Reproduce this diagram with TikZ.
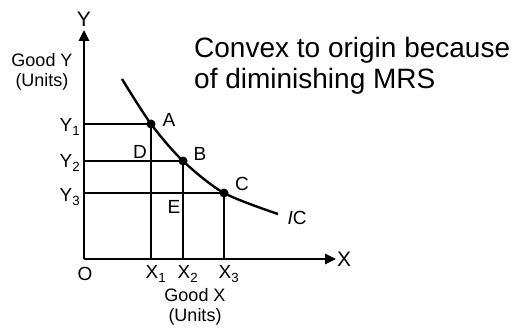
\documentclass[tikz,border=0pt]{standalone}
\usepackage{fontspec}
\setmainfont{Liberation Sans}
\usetikzlibrary{arrows.meta}
\begin{document}
\begin{tikzpicture}[x=1pt,y=-1pt,
  axis/.style={line width=2.6pt,-{Triangle[length=11pt,width=10pt]}},
  guide/.style={line width=2.2pt},
  dot/.style={circle,fill=black,inner sep=0pt,minimum size=9pt},
  lbl/.style={font=\fontsize{19}{19}\selectfont,inner sep=0pt},
  axlbl/.style={font=\fontsize{21}{21}\selectfont,inner sep=0pt},
  small/.style={font=\fontsize{18}{20}\selectfont,inner sep=0pt,align=center}]
\useasboundingbox (0,0) rectangle (526,331);
\coordinate (o) at (84,259);
\coordinate (ytip) at (84,30);
\coordinate (xtip) at (336,259);
\draw[axis] (o) -- (ytip);
\draw[axis] (o) -- (xtip);
\node[axlbl] (ylab) at (84,19) {Y};
\node[axlbl] (xlab) at (344,259) {X};
\node[lbl] (olab) at (85,274) {O};
\node[small] (gy) at (42,72) {Good Y\\(Units)};
\node[small] (gx) at (195,307) {Good X\\(Units)};
\coordinate (y1) at (84,124);
\coordinate (y2) at (84,161);
\coordinate (y3) at (84,193);
\coordinate (x1) at (151,259);
\coordinate (x2) at (183,259);
\coordinate (x3) at (224,259);
\node[dot] (A) at (151,124) {};
\node[dot] (B) at (183,161) {};
\node[dot] (C) at (224,193) {};
\draw[guide] (y1) -- (A.center) -- (x1);
\draw[guide] (y2) -- (B.center) -- (x2);
\draw[guide] (y3) -- (C.center) -- (x3);
\draw[line width=2.4pt] plot[smooth] coordinates {(122,79) (151,124) (183,161) (224,193) (278,214)};
\node[lbl] (la) at (169,120) {A};
\node[lbl] (lb) at (200,154) {B};
\node[lbl] (lc) at (242,184) {C};
\node[lbl] (ld) at (140,152) {D};
\node[lbl] (le) at (174,207) {E};
\node[lbl] (lic) at (297,218) {\textit{I}C};
\node[lbl] (ly1) at (70,127) {Y\textsubscript{1}};
\node[lbl] (ly2) at (70,163) {Y\textsubscript{2}};
\node[lbl] (ly3) at (70,197) {Y\textsubscript{3}};
\node[lbl] (lx1) at (156,274) {X\textsubscript{1}};
\node[lbl] (lx2) at (188,274) {X\textsubscript{2}};
\node[lbl] (lx3) at (229,274) {X\textsubscript{3}};
\node[font=\fontsize{28}{31}\selectfont,align=left,anchor=north west,inner sep=0pt] (note) at (194,37) {Convex to origin because\\of diminishing MRS};
\end{tikzpicture}
\end{document}
